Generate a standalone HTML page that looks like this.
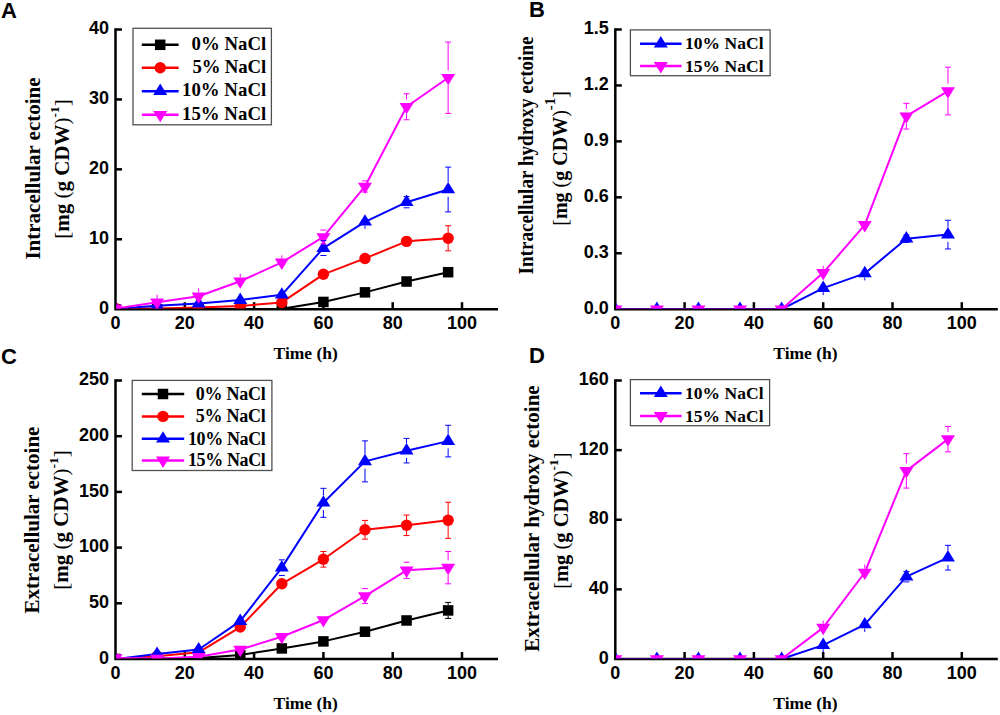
<!DOCTYPE html>
<html><head><meta charset="utf-8"><style>
html,body{margin:0;padding:0;background:#fff;}
body{width:1000px;height:715px;overflow:hidden;}
svg{display:block;}
.tk{font-family:"Liberation Sans",sans-serif;font-weight:bold;font-size:18px;fill:#000;}
.lg{font-family:"Liberation Serif",serif;font-weight:bold;font-size:18.8px;fill:#000;}
.ti{font-family:"Liberation Serif",serif;font-weight:bold;font-size:17.5px;fill:#000;}
.yt{font-family:"Liberation Serif",serif;font-weight:bold;font-size:21px;fill:#000;}
.br{font-weight:normal;}
.pl{font-family:"Liberation Sans",sans-serif;font-weight:bold;font-size:22px;fill:#000;}
</style></head><body>
<svg width="1000" height="715" viewBox="0 0 1000 715">
<defs><clipPath id="cpA"><rect x="116.30" y="-0.50" width="400" height="309.00"/></clipPath><clipPath id="cpB"><rect x="616.10" y="-0.50" width="400" height="309.00"/></clipPath><clipPath id="cpC"><rect x="116.30" y="350.50" width="400" height="307.80"/></clipPath><clipPath id="cpD"><rect x="616.10" y="350.50" width="400" height="307.80"/></clipPath></defs>
<path d="M115.50 28.30V309.20H498.00" fill="none" stroke="#000" stroke-width="2.5" stroke-linejoin="miter"/>
<path d="M115.50 239.27H122.00" stroke="#000" stroke-width="2.5"/>
<path d="M115.50 169.35H122.00" stroke="#000" stroke-width="2.5"/>
<path d="M115.50 99.43H122.00" stroke="#000" stroke-width="2.5"/>
<path d="M115.50 29.50H122.00" stroke="#000" stroke-width="2.5"/>
<path d="M184.80 309.20V302.20" stroke="#000" stroke-width="2.5"/>
<path d="M254.10 309.20V302.20" stroke="#000" stroke-width="2.5"/>
<path d="M323.40 309.20V302.20" stroke="#000" stroke-width="2.5"/>
<path d="M392.70 309.20V302.20" stroke="#000" stroke-width="2.5"/>
<path d="M462.00 309.20V302.20" stroke="#000" stroke-width="2.5"/>
<text class="tk" x="109.00" y="313.80" text-anchor="end">0</text>
<text class="tk" x="109.00" y="243.87" text-anchor="end">10</text>
<text class="tk" x="109.00" y="173.95" text-anchor="end">20</text>
<text class="tk" x="109.00" y="104.03" text-anchor="end">30</text>
<text class="tk" x="109.00" y="34.10" text-anchor="end">40</text>
<text class="tk" x="115.50" y="328.80" text-anchor="middle">0</text>
<text class="tk" x="184.80" y="328.80" text-anchor="middle">20</text>
<text class="tk" x="254.10" y="328.80" text-anchor="middle">40</text>
<text class="tk" x="323.40" y="328.80" text-anchor="middle">60</text>
<text class="tk" x="392.70" y="328.80" text-anchor="middle">80</text>
<text class="tk" x="462.00" y="328.80" text-anchor="middle">100</text>
<g clip-path="url(#cpA)">
<polyline points="115.50,309.20 157.08,309.20 198.66,309.20 240.24,309.20 281.82,308.85 323.40,301.93 364.98,292.35 406.56,281.51 448.14,272.21" fill="none" stroke="#000000" stroke-width="2.0" stroke-linejoin="round"/>
<rect x="110.25" y="303.95" width="10.5" height="10.5" fill="#000000"/>
<rect x="151.83" y="303.95" width="10.5" height="10.5" fill="#000000"/>
<rect x="193.41" y="303.95" width="10.5" height="10.5" fill="#000000"/>
<rect x="234.99" y="303.95" width="10.5" height="10.5" fill="#000000"/>
<rect x="276.57" y="303.60" width="10.5" height="10.5" fill="#000000"/>
<rect x="318.15" y="296.68" width="10.5" height="10.5" fill="#000000"/>
<rect x="359.73" y="287.10" width="10.5" height="10.5" fill="#000000"/>
<rect x="401.31" y="276.26" width="10.5" height="10.5" fill="#000000"/>
<rect x="442.89" y="266.96" width="10.5" height="10.5" fill="#000000"/>
<polyline points="115.50,308.50 157.08,308.50 198.66,307.45 240.24,306.05 281.82,302.42 323.40,274.31 364.98,258.43 406.56,241.37 448.14,238.30" fill="none" stroke="#ff0000" stroke-width="2.0" stroke-linejoin="round"/>
<circle cx="115.50" cy="308.50" r="5.7" fill="#ff0000"/>
<circle cx="157.08" cy="308.50" r="5.7" fill="#ff0000"/>
<circle cx="198.66" cy="307.45" r="5.7" fill="#ff0000"/>
<circle cx="240.24" cy="306.05" r="5.7" fill="#ff0000"/>
<circle cx="281.82" cy="302.42" r="5.7" fill="#ff0000"/>
<circle cx="323.40" cy="274.31" r="5.7" fill="#ff0000"/>
<circle cx="364.98" cy="258.43" r="5.7" fill="#ff0000"/>
<circle cx="406.56" cy="241.37" r="5.7" fill="#ff0000"/>
<circle cx="448.14" cy="238.30" r="5.7" fill="#ff0000"/>
<polyline points="115.50,308.85 157.08,305.70 198.66,303.61 240.24,300.11 281.82,294.80 323.40,248.09 364.98,221.79 406.56,202.21 448.14,189.49" fill="none" stroke="#0000ff" stroke-width="2.0" stroke-linejoin="round"/>
<path d="M115.50 301.25L122.50 312.65L108.50 312.65Z" fill="#0000ff"/>
<path d="M157.08 298.10L164.08 309.50L150.08 309.50Z" fill="#0000ff"/>
<path d="M198.66 296.01L205.66 307.41L191.66 307.41Z" fill="#0000ff"/>
<path d="M240.24 292.51L247.24 303.91L233.24 303.91Z" fill="#0000ff"/>
<path d="M281.82 287.20L288.82 298.60L274.82 298.60Z" fill="#0000ff"/>
<path d="M323.40 240.49L330.40 251.89L316.40 251.89Z" fill="#0000ff"/>
<path d="M364.98 214.19L371.98 225.59L357.98 225.59Z" fill="#0000ff"/>
<path d="M406.56 194.61L413.56 206.01L399.56 206.01Z" fill="#0000ff"/>
<path d="M448.14 181.89L455.14 193.29L441.14 193.29Z" fill="#0000ff"/>
<polyline points="115.50,308.50 157.08,302.21 198.66,296.26 240.24,281.23 281.82,262.35 323.40,236.97 364.98,186.48 406.56,106.77 448.14,77.75" fill="none" stroke="#ff00ff" stroke-width="2.0" stroke-linejoin="round"/>
<path d="M108.50 304.70L122.50 304.70L115.50 316.10Z" fill="#ff00ff"/>
<path d="M150.08 298.41L164.08 298.41L157.08 309.81Z" fill="#ff00ff"/>
<path d="M191.66 292.46L205.66 292.46L198.66 303.86Z" fill="#ff00ff"/>
<path d="M233.24 277.43L247.24 277.43L240.24 288.83Z" fill="#ff00ff"/>
<path d="M274.82 258.55L288.82 258.55L281.82 269.95Z" fill="#ff00ff"/>
<path d="M316.40 233.17L330.40 233.17L323.40 244.57Z" fill="#ff00ff"/>
<path d="M357.98 182.68L371.98 182.68L364.98 194.08Z" fill="#ff00ff"/>
<path d="M399.56 102.97L413.56 102.97L406.56 114.37Z" fill="#ff00ff"/>
<path d="M441.14 73.95L455.14 73.95L448.14 85.35Z" fill="#ff00ff"/>
<path d="M320.40 300.53H326.40M320.40 303.33H326.40" stroke="#000000" stroke-width="1.0" fill="none"/>
<path d="M361.98 290.25H367.98M361.98 294.45H367.98" stroke="#000000" stroke-width="1.0" fill="none"/>
<path d="M403.56 279.41H409.56M403.56 283.61H409.56" stroke="#000000" stroke-width="1.0" fill="none"/>
<path d="M445.14 269.41H451.14M445.14 275.01H451.14" stroke="#000000" stroke-width="1.0" fill="none"/>
<path d="M278.82 301.02H284.82M278.82 303.82H284.82" stroke="#ff0000" stroke-width="1.0" fill="none"/>
<path d="M320.40 270.81H326.40M320.40 277.80H326.40" stroke="#ff0000" stroke-width="1.0" fill="none"/>
<path d="M361.98 254.94H367.98M361.98 261.93H367.98" stroke="#ff0000" stroke-width="1.0" fill="none"/>
<path d="M403.56 237.18H409.56M403.56 245.57H409.56" stroke="#ff0000" stroke-width="1.0" fill="none"/>
<path d="M448.14 225.78V233.30M448.14 243.30V250.81M445.14 225.78H451.14M445.14 250.81H451.14" stroke="#ff0000" stroke-width="1.0" fill="none"/>
<path d="M278.82 292.70H284.82M278.82 296.89H284.82" stroke="#0000ff" stroke-width="1.0" fill="none"/>
<path d="M323.40 240.67V240.79M323.40 255.39V255.50M320.40 240.67H326.40M320.40 255.50H326.40" stroke="#0000ff" stroke-width="1.0" fill="none"/>
<path d="M364.98 225.79V228.79" stroke="#0000ff" stroke-width="1.0" fill="none"/>
<path d="M403.56 196.62H409.56M403.56 207.81H409.56" stroke="#0000ff" stroke-width="1.0" fill="none"/>
<path d="M448.14 167.11V182.19M448.14 196.79V211.86M445.14 167.11H451.14M445.14 211.86H451.14" stroke="#0000ff" stroke-width="1.0" fill="none"/>
<path d="M157.08 294.71V298.21" stroke="#ff00ff" stroke-width="1.0" fill="none"/>
<path d="M198.66 288.26V292.26" stroke="#ff00ff" stroke-width="1.0" fill="none"/>
<path d="M240.24 273.73V277.23" stroke="#ff00ff" stroke-width="1.0" fill="none"/>
<path d="M281.82 255.35V258.35" stroke="#ff00ff" stroke-width="1.0" fill="none"/>
<path d="M320.40 230.04H326.40M320.40 243.89H326.40" stroke="#ff00ff" stroke-width="1.0" fill="none"/>
<path d="M361.98 180.89H367.98M361.98 192.08H367.98" stroke="#ff00ff" stroke-width="1.0" fill="none"/>
<path d="M406.56 93.76V99.47M406.56 114.07V119.77M403.56 93.76H409.56M403.56 119.77H409.56" stroke="#ff00ff" stroke-width="1.0" fill="none"/>
<path d="M448.14 42.09V70.45M448.14 85.05V113.41M445.14 42.09H451.14M445.14 113.41H451.14" stroke="#ff00ff" stroke-width="1.0" fill="none"/>
</g>
<path d="M615.30 28.30V309.20H997.80" fill="none" stroke="#000" stroke-width="2.5" stroke-linejoin="miter"/>
<path d="M615.30 253.26H621.80" stroke="#000" stroke-width="2.5"/>
<path d="M615.30 197.32H621.80" stroke="#000" stroke-width="2.5"/>
<path d="M615.30 141.38H621.80" stroke="#000" stroke-width="2.5"/>
<path d="M615.30 85.44H621.80" stroke="#000" stroke-width="2.5"/>
<path d="M615.30 29.50H621.80" stroke="#000" stroke-width="2.5"/>
<path d="M684.60 309.20V302.20" stroke="#000" stroke-width="2.5"/>
<path d="M753.90 309.20V302.20" stroke="#000" stroke-width="2.5"/>
<path d="M823.20 309.20V302.20" stroke="#000" stroke-width="2.5"/>
<path d="M892.50 309.20V302.20" stroke="#000" stroke-width="2.5"/>
<path d="M961.80 309.20V302.20" stroke="#000" stroke-width="2.5"/>
<text class="tk" x="608.80" y="313.80" text-anchor="end">0.0</text>
<text class="tk" x="608.80" y="257.86" text-anchor="end">0.3</text>
<text class="tk" x="608.80" y="201.92" text-anchor="end">0.6</text>
<text class="tk" x="608.80" y="145.98" text-anchor="end">0.9</text>
<text class="tk" x="608.80" y="90.04" text-anchor="end">1.2</text>
<text class="tk" x="608.80" y="34.10" text-anchor="end">1.5</text>
<text class="tk" x="615.30" y="328.80" text-anchor="middle">0</text>
<text class="tk" x="684.60" y="328.80" text-anchor="middle">20</text>
<text class="tk" x="753.90" y="328.80" text-anchor="middle">40</text>
<text class="tk" x="823.20" y="328.80" text-anchor="middle">60</text>
<text class="tk" x="892.50" y="328.80" text-anchor="middle">80</text>
<text class="tk" x="961.80" y="328.80" text-anchor="middle">100</text>
<g clip-path="url(#cpB)">
<polyline points="615.30,309.20 656.88,309.20 698.46,309.20 740.04,309.20 781.62,309.20 823.20,288.13 864.78,273.40 906.36,238.72 947.94,234.61" fill="none" stroke="#0000ff" stroke-width="2.0" stroke-linejoin="round"/>
<path d="M615.30 301.60L622.30 313.00L608.30 313.00Z" fill="#0000ff"/>
<path d="M656.88 301.60L663.88 313.00L649.88 313.00Z" fill="#0000ff"/>
<path d="M698.46 301.60L705.46 313.00L691.46 313.00Z" fill="#0000ff"/>
<path d="M740.04 301.60L747.04 313.00L733.04 313.00Z" fill="#0000ff"/>
<path d="M781.62 301.60L788.62 313.00L774.62 313.00Z" fill="#0000ff"/>
<path d="M823.20 280.53L830.20 291.93L816.20 291.93Z" fill="#0000ff"/>
<path d="M864.78 265.80L871.78 277.20L857.78 277.20Z" fill="#0000ff"/>
<path d="M906.36 231.12L913.36 242.52L899.36 242.52Z" fill="#0000ff"/>
<path d="M947.94 227.01L954.94 238.41L940.94 238.41Z" fill="#0000ff"/>
<polyline points="615.30,309.20 656.88,309.20 698.46,309.20 740.04,309.20 781.62,309.20 823.20,272.84 864.78,224.92 906.36,116.21 947.94,91.03" fill="none" stroke="#ff00ff" stroke-width="2.0" stroke-linejoin="round"/>
<path d="M608.30 305.40L622.30 305.40L615.30 316.80Z" fill="#ff00ff"/>
<path d="M649.88 305.40L663.88 305.40L656.88 316.80Z" fill="#ff00ff"/>
<path d="M691.46 305.40L705.46 305.40L698.46 316.80Z" fill="#ff00ff"/>
<path d="M733.04 305.40L747.04 305.40L740.04 316.80Z" fill="#ff00ff"/>
<path d="M774.62 305.40L788.62 305.40L781.62 316.80Z" fill="#ff00ff"/>
<path d="M816.20 269.04L830.20 269.04L823.20 280.44Z" fill="#ff00ff"/>
<path d="M857.78 221.12L871.78 221.12L864.78 232.52Z" fill="#ff00ff"/>
<path d="M899.36 112.41L913.36 112.41L906.36 123.81Z" fill="#ff00ff"/>
<path d="M940.94 87.23L954.94 87.23L947.94 98.63Z" fill="#ff00ff"/>
<path d="M823.20 292.13V295.13" stroke="#0000ff" stroke-width="1.0" fill="none"/>
<path d="M864.78 277.40V280.40" stroke="#0000ff" stroke-width="1.0" fill="none"/>
<path d="M903.36 234.99H909.36M903.36 242.44H909.36" stroke="#0000ff" stroke-width="1.0" fill="none"/>
<path d="M947.94 220.26V227.31M947.94 241.91V248.97M944.94 220.26H950.94M944.94 248.97H950.94" stroke="#0000ff" stroke-width="1.0" fill="none"/>
<path d="M823.20 265.84V268.84" stroke="#ff00ff" stroke-width="1.0" fill="none"/>
<path d="M906.36 103.34V108.91M906.36 123.51V129.07M903.36 103.34H909.36M903.36 129.07H909.36" stroke="#ff00ff" stroke-width="1.0" fill="none"/>
<path d="M947.94 67.17V83.73M947.94 98.33V114.90M944.94 67.17H950.94M944.94 114.90H950.94" stroke="#ff00ff" stroke-width="1.0" fill="none"/>
</g>
<path d="M115.50 379.30V659.00H498.00" fill="none" stroke="#000" stroke-width="2.5" stroke-linejoin="miter"/>
<path d="M115.50 603.30H122.00" stroke="#000" stroke-width="2.5"/>
<path d="M115.50 547.60H122.00" stroke="#000" stroke-width="2.5"/>
<path d="M115.50 491.90H122.00" stroke="#000" stroke-width="2.5"/>
<path d="M115.50 436.20H122.00" stroke="#000" stroke-width="2.5"/>
<path d="M115.50 380.50H122.00" stroke="#000" stroke-width="2.5"/>
<path d="M184.80 659.00V652.00" stroke="#000" stroke-width="2.5"/>
<path d="M254.10 659.00V652.00" stroke="#000" stroke-width="2.5"/>
<path d="M323.40 659.00V652.00" stroke="#000" stroke-width="2.5"/>
<path d="M392.70 659.00V652.00" stroke="#000" stroke-width="2.5"/>
<path d="M462.00 659.00V652.00" stroke="#000" stroke-width="2.5"/>
<text class="tk" x="109.00" y="663.60" text-anchor="end">0</text>
<text class="tk" x="109.00" y="607.90" text-anchor="end">50</text>
<text class="tk" x="109.00" y="552.20" text-anchor="end">100</text>
<text class="tk" x="109.00" y="496.50" text-anchor="end">150</text>
<text class="tk" x="109.00" y="440.80" text-anchor="end">200</text>
<text class="tk" x="109.00" y="385.10" text-anchor="end">250</text>
<text class="tk" x="115.50" y="678.60" text-anchor="middle">0</text>
<text class="tk" x="184.80" y="678.60" text-anchor="middle">20</text>
<text class="tk" x="254.10" y="678.60" text-anchor="middle">40</text>
<text class="tk" x="323.40" y="678.60" text-anchor="middle">60</text>
<text class="tk" x="392.70" y="678.60" text-anchor="middle">80</text>
<text class="tk" x="462.00" y="678.60" text-anchor="middle">100</text>
<g clip-path="url(#cpC)">
<polyline points="115.50,659.00 157.08,659.00 198.66,658.11 240.24,654.99 281.82,648.42 323.40,641.40 364.98,631.71 406.56,620.46 448.14,610.43" fill="none" stroke="#000000" stroke-width="2.0" stroke-linejoin="round"/>
<rect x="110.25" y="653.75" width="10.5" height="10.5" fill="#000000"/>
<rect x="151.83" y="653.75" width="10.5" height="10.5" fill="#000000"/>
<rect x="193.41" y="652.86" width="10.5" height="10.5" fill="#000000"/>
<rect x="234.99" y="649.74" width="10.5" height="10.5" fill="#000000"/>
<rect x="276.57" y="643.17" width="10.5" height="10.5" fill="#000000"/>
<rect x="318.15" y="636.15" width="10.5" height="10.5" fill="#000000"/>
<rect x="359.73" y="626.46" width="10.5" height="10.5" fill="#000000"/>
<rect x="401.31" y="615.21" width="10.5" height="10.5" fill="#000000"/>
<rect x="442.89" y="605.18" width="10.5" height="10.5" fill="#000000"/>
<polyline points="115.50,659.00 157.08,656.22 198.66,652.32 240.24,627.03 281.82,583.80 323.40,559.30 364.98,529.78 406.56,525.32 448.14,520.31" fill="none" stroke="#ff0000" stroke-width="2.0" stroke-linejoin="round"/>
<circle cx="115.50" cy="659.00" r="5.7" fill="#ff0000"/>
<circle cx="157.08" cy="656.22" r="5.7" fill="#ff0000"/>
<circle cx="198.66" cy="652.32" r="5.7" fill="#ff0000"/>
<circle cx="240.24" cy="627.03" r="5.7" fill="#ff0000"/>
<circle cx="281.82" cy="583.80" r="5.7" fill="#ff0000"/>
<circle cx="323.40" cy="559.30" r="5.7" fill="#ff0000"/>
<circle cx="364.98" cy="529.78" r="5.7" fill="#ff0000"/>
<circle cx="406.56" cy="525.32" r="5.7" fill="#ff0000"/>
<circle cx="448.14" cy="520.31" r="5.7" fill="#ff0000"/>
<polyline points="115.50,659.00 157.08,653.99 198.66,649.53 240.24,621.12 281.82,567.65 323.40,502.82 364.98,461.38 406.56,450.68 448.14,441.10" fill="none" stroke="#0000ff" stroke-width="2.0" stroke-linejoin="round"/>
<path d="M115.50 651.40L122.50 662.80L108.50 662.80Z" fill="#0000ff"/>
<path d="M157.08 646.39L164.08 657.79L150.08 657.79Z" fill="#0000ff"/>
<path d="M198.66 641.93L205.66 653.33L191.66 653.33Z" fill="#0000ff"/>
<path d="M240.24 613.52L247.24 624.92L233.24 624.92Z" fill="#0000ff"/>
<path d="M281.82 560.05L288.82 571.45L274.82 571.45Z" fill="#0000ff"/>
<path d="M323.40 495.22L330.40 506.62L316.40 506.62Z" fill="#0000ff"/>
<path d="M364.98 453.78L371.98 465.18L357.98 465.18Z" fill="#0000ff"/>
<path d="M406.56 443.08L413.56 454.48L399.56 454.48Z" fill="#0000ff"/>
<path d="M448.14 433.50L455.14 444.90L441.14 444.90Z" fill="#0000ff"/>
<polyline points="115.50,658.11 157.08,658.44 198.66,656.77 240.24,649.53 281.82,636.72 323.40,620.01 364.98,596.06 406.56,570.33 448.14,567.65" fill="none" stroke="#ff00ff" stroke-width="2.0" stroke-linejoin="round"/>
<path d="M108.50 654.31L122.50 654.31L115.50 665.71Z" fill="#ff00ff"/>
<path d="M150.08 654.64L164.08 654.64L157.08 666.04Z" fill="#ff00ff"/>
<path d="M191.66 652.97L205.66 652.97L198.66 664.37Z" fill="#ff00ff"/>
<path d="M233.24 645.73L247.24 645.73L240.24 657.13Z" fill="#ff00ff"/>
<path d="M274.82 632.92L288.82 632.92L281.82 644.32Z" fill="#ff00ff"/>
<path d="M316.40 616.21L330.40 616.21L323.40 627.61Z" fill="#ff00ff"/>
<path d="M357.98 592.26L371.98 592.26L364.98 603.66Z" fill="#ff00ff"/>
<path d="M399.56 566.53L413.56 566.53L406.56 577.93Z" fill="#ff00ff"/>
<path d="M441.14 563.85L455.14 563.85L448.14 575.25Z" fill="#ff00ff"/>
<path d="M320.40 640.28H326.40M320.40 642.51H326.40" stroke="#000000" stroke-width="1.0" fill="none"/>
<path d="M361.98 630.04H367.98M361.98 633.38H367.98" stroke="#000000" stroke-width="1.0" fill="none"/>
<path d="M403.56 618.23H409.56M403.56 622.68H409.56" stroke="#000000" stroke-width="1.0" fill="none"/>
<path d="M448.14 602.41V605.43M448.14 615.43V618.45M445.14 602.41H451.14M445.14 618.45H451.14" stroke="#000000" stroke-width="1.0" fill="none"/>
<path d="M278.82 580.46H284.82M278.82 587.15H284.82" stroke="#ff0000" stroke-width="1.0" fill="none"/>
<path d="M323.40 551.50V554.30M323.40 564.30V567.10M320.40 551.50H326.40M320.40 567.10H326.40" stroke="#ff0000" stroke-width="1.0" fill="none"/>
<path d="M364.98 520.42V524.78M364.98 534.78V539.13M361.98 520.42H367.98M361.98 539.13H367.98" stroke="#ff0000" stroke-width="1.0" fill="none"/>
<path d="M406.56 515.07V520.32M406.56 530.32V535.57M403.56 515.07H409.56M403.56 535.57H409.56" stroke="#ff0000" stroke-width="1.0" fill="none"/>
<path d="M448.14 502.26V515.31M448.14 525.31V538.35M445.14 502.26H451.14M445.14 538.35H451.14" stroke="#ff0000" stroke-width="1.0" fill="none"/>
<path d="M281.82 559.85V560.35M281.82 574.95V575.45M278.82 559.85H284.82M278.82 575.45H284.82" stroke="#0000ff" stroke-width="1.0" fill="none"/>
<path d="M323.40 488.34V495.52M323.40 510.12V517.30M320.40 488.34H326.40M320.40 517.30H326.40" stroke="#0000ff" stroke-width="1.0" fill="none"/>
<path d="M364.98 440.88V454.08M364.98 468.68V481.87M361.98 440.88H367.98M361.98 481.87H367.98" stroke="#0000ff" stroke-width="1.0" fill="none"/>
<path d="M406.56 438.43V443.38M406.56 457.98V462.94M403.56 438.43H409.56M403.56 462.94H409.56" stroke="#0000ff" stroke-width="1.0" fill="none"/>
<path d="M448.14 425.28V433.80M448.14 448.40V456.92M445.14 425.28H451.14M445.14 456.92H451.14" stroke="#0000ff" stroke-width="1.0" fill="none"/>
<path d="M364.98 588.60V588.76M364.98 603.36V603.52M361.98 588.60H367.98M361.98 603.52H367.98" stroke="#ff00ff" stroke-width="1.0" fill="none"/>
<path d="M406.56 562.19V563.03M406.56 577.63V578.46M403.56 562.19H409.56M403.56 578.46H409.56" stroke="#ff00ff" stroke-width="1.0" fill="none"/>
<path d="M448.14 551.50V560.35M448.14 574.95V583.81M445.14 551.50H451.14M445.14 583.81H451.14" stroke="#ff00ff" stroke-width="1.0" fill="none"/>
</g>
<path d="M615.30 379.30V659.00H997.80" fill="none" stroke="#000" stroke-width="2.5" stroke-linejoin="miter"/>
<path d="M615.30 589.38H621.80" stroke="#000" stroke-width="2.5"/>
<path d="M615.30 519.75H621.80" stroke="#000" stroke-width="2.5"/>
<path d="M615.30 450.12H621.80" stroke="#000" stroke-width="2.5"/>
<path d="M615.30 380.50H621.80" stroke="#000" stroke-width="2.5"/>
<path d="M684.60 659.00V652.00" stroke="#000" stroke-width="2.5"/>
<path d="M753.90 659.00V652.00" stroke="#000" stroke-width="2.5"/>
<path d="M823.20 659.00V652.00" stroke="#000" stroke-width="2.5"/>
<path d="M892.50 659.00V652.00" stroke="#000" stroke-width="2.5"/>
<path d="M961.80 659.00V652.00" stroke="#000" stroke-width="2.5"/>
<text class="tk" x="608.80" y="663.60" text-anchor="end">0</text>
<text class="tk" x="608.80" y="593.98" text-anchor="end">40</text>
<text class="tk" x="608.80" y="524.35" text-anchor="end">80</text>
<text class="tk" x="608.80" y="454.73" text-anchor="end">120</text>
<text class="tk" x="608.80" y="385.10" text-anchor="end">160</text>
<text class="tk" x="615.30" y="678.60" text-anchor="middle">0</text>
<text class="tk" x="684.60" y="678.60" text-anchor="middle">20</text>
<text class="tk" x="753.90" y="678.60" text-anchor="middle">40</text>
<text class="tk" x="823.20" y="678.60" text-anchor="middle">60</text>
<text class="tk" x="892.50" y="678.60" text-anchor="middle">80</text>
<text class="tk" x="961.80" y="678.60" text-anchor="middle">100</text>
<g clip-path="url(#cpD)">
<polyline points="615.30,659.00 656.88,659.00 698.46,659.00 740.04,659.00 781.62,659.00 823.20,645.16 864.78,624.54 906.36,576.67 947.94,557.70" fill="none" stroke="#0000ff" stroke-width="2.0" stroke-linejoin="round"/>
<path d="M615.30 651.40L622.30 662.80L608.30 662.80Z" fill="#0000ff"/>
<path d="M656.88 651.40L663.88 662.80L649.88 662.80Z" fill="#0000ff"/>
<path d="M698.46 651.40L705.46 662.80L691.46 662.80Z" fill="#0000ff"/>
<path d="M740.04 651.40L747.04 662.80L733.04 662.80Z" fill="#0000ff"/>
<path d="M781.62 651.40L788.62 662.80L774.62 662.80Z" fill="#0000ff"/>
<path d="M823.20 637.56L830.20 648.96L816.20 648.96Z" fill="#0000ff"/>
<path d="M864.78 616.94L871.78 628.34L857.78 628.34Z" fill="#0000ff"/>
<path d="M906.36 569.07L913.36 580.47L899.36 580.47Z" fill="#0000ff"/>
<path d="M947.94 550.10L954.94 561.50L940.94 561.50Z" fill="#0000ff"/>
<polyline points="615.30,659.00 656.88,659.00 698.46,659.00 740.04,659.00 781.62,659.00 823.20,627.67 864.78,572.49 906.36,470.84 947.94,439.16" fill="none" stroke="#ff00ff" stroke-width="2.0" stroke-linejoin="round"/>
<path d="M608.30 655.20L622.30 655.20L615.30 666.60Z" fill="#ff00ff"/>
<path d="M649.88 655.20L663.88 655.20L656.88 666.60Z" fill="#ff00ff"/>
<path d="M691.46 655.20L705.46 655.20L698.46 666.60Z" fill="#ff00ff"/>
<path d="M733.04 655.20L747.04 655.20L740.04 666.60Z" fill="#ff00ff"/>
<path d="M774.62 655.20L788.62 655.20L781.62 666.60Z" fill="#ff00ff"/>
<path d="M816.20 623.87L830.20 623.87L823.20 635.27Z" fill="#ff00ff"/>
<path d="M857.78 568.69L871.78 568.69L864.78 580.09Z" fill="#ff00ff"/>
<path d="M899.36 467.04L913.36 467.04L906.36 478.44Z" fill="#ff00ff"/>
<path d="M940.94 435.36L954.94 435.36L947.94 446.76Z" fill="#ff00ff"/>
<path d="M823.20 649.16V652.16" stroke="#0000ff" stroke-width="1.0" fill="none"/>
<path d="M864.78 628.54V632.04" stroke="#0000ff" stroke-width="1.0" fill="none"/>
<path d="M903.36 571.45H909.36M903.36 581.89H909.36" stroke="#0000ff" stroke-width="1.0" fill="none"/>
<path d="M947.94 545.34V550.40M947.94 565.00V570.05M944.94 545.34H950.94M944.94 570.05H950.94" stroke="#0000ff" stroke-width="1.0" fill="none"/>
<path d="M823.20 620.67V623.67" stroke="#ff00ff" stroke-width="1.0" fill="none"/>
<path d="M864.78 564.49V568.49" stroke="#ff00ff" stroke-width="1.0" fill="none"/>
<path d="M906.36 453.61V463.54M906.36 478.14V488.07M903.36 453.61H909.36M903.36 488.07H909.36" stroke="#ff00ff" stroke-width="1.0" fill="none"/>
<path d="M947.94 426.45V431.86M947.94 446.46V451.87M944.94 426.45H950.94M944.94 451.87H950.94" stroke="#ff00ff" stroke-width="1.0" fill="none"/>
</g>
<rect x="133.00" y="28.30" width="138.40" height="96.50" fill="none" stroke="#505050" stroke-width="1.3"/>
<path d="M141.80 44.80H178.60" stroke="#000000" stroke-width="2.5"/>
<rect x="154.95" y="39.55" width="10.5" height="10.5" fill="#000000"/>
<text class="lg" style="font-size:18.8px" x="191.60" y="50.00" textLength="74.60" lengthAdjust="spacing">0% NaCl</text>
<path d="M141.80 67.70H178.60" stroke="#ff0000" stroke-width="2.5"/>
<circle cx="160.20" cy="67.70" r="5.7" fill="#ff0000"/>
<text class="lg" style="font-size:18.8px" x="192.40" y="72.90" textLength="73.80" lengthAdjust="spacing">5% NaCl</text>
<path d="M141.80 91.20H178.60" stroke="#0000ff" stroke-width="2.5"/>
<path d="M160.20 83.60L167.20 95.00L153.20 95.00Z" fill="#0000ff"/>
<text class="lg" style="font-size:18.8px" x="182.00" y="96.40" textLength="84.20" lengthAdjust="spacing">10% NaCl</text>
<path d="M141.80 114.70H178.60" stroke="#ff00ff" stroke-width="2.5"/>
<path d="M153.20 110.90L167.20 110.90L160.20 122.30Z" fill="#ff00ff"/>
<text class="lg" style="font-size:18.8px" x="182.00" y="119.90" textLength="84.20" lengthAdjust="spacing">15% NaCl</text>
<rect x="630.40" y="29.90" width="139.70" height="45.80" fill="none" stroke="#505050" stroke-width="1.3"/>
<path d="M640.00 43.70H681.60" stroke="#0000ff" stroke-width="2.5"/>
<path d="M660.80 36.10L667.80 47.50L653.80 47.50Z" fill="#0000ff"/>
<text class="lg" style="font-size:17.5px" x="685.00" y="49.30" textLength="78.60" lengthAdjust="spacing">10% NaCl</text>
<path d="M640.00 65.90H681.60" stroke="#ff00ff" stroke-width="2.5"/>
<path d="M653.80 62.10L667.80 62.10L660.80 73.50Z" fill="#ff00ff"/>
<text class="lg" style="font-size:17.5px" x="685.00" y="71.50" textLength="78.60" lengthAdjust="spacing">15% NaCl</text>
<rect x="132.20" y="380.40" width="139.70" height="90.10" fill="none" stroke="#505050" stroke-width="1.3"/>
<path d="M141.80 394.00H184.20" stroke="#000000" stroke-width="2.5"/>
<rect x="157.75" y="388.75" width="10.5" height="10.5" fill="#000000"/>
<text class="lg" style="font-size:18px" x="195.80" y="399.80" textLength="70.00" lengthAdjust="spacing">0% NaCl</text>
<path d="M141.80 416.40H184.20" stroke="#ff0000" stroke-width="2.5"/>
<circle cx="163.00" cy="416.40" r="5.7" fill="#ff0000"/>
<text class="lg" style="font-size:18px" x="195.80" y="422.20" textLength="70.00" lengthAdjust="spacing">5% NaCl</text>
<path d="M141.80 438.80H184.20" stroke="#0000ff" stroke-width="2.5"/>
<path d="M163.00 431.20L170.00 442.60L156.00 442.60Z" fill="#0000ff"/>
<text class="lg" style="font-size:18px" x="188.00" y="444.60" textLength="77.80" lengthAdjust="spacing">10% NaCl</text>
<path d="M141.80 460.40H184.20" stroke="#ff00ff" stroke-width="2.5"/>
<path d="M156.00 456.60L170.00 456.60L163.00 468.00Z" fill="#ff00ff"/>
<text class="lg" style="font-size:18px" x="188.00" y="466.20" textLength="77.80" lengthAdjust="spacing">15% NaCl</text>
<rect x="630.40" y="379.60" width="139.20" height="46.10" fill="none" stroke="#505050" stroke-width="1.3"/>
<path d="M640.00 393.20H681.60" stroke="#0000ff" stroke-width="2.5"/>
<path d="M660.80 385.60L667.80 397.00L653.80 397.00Z" fill="#0000ff"/>
<text class="lg" style="font-size:17.5px" x="685.00" y="398.80" textLength="78.60" lengthAdjust="spacing">10% NaCl</text>
<path d="M640.00 415.90H681.60" stroke="#ff00ff" stroke-width="2.5"/>
<path d="M653.80 412.10L667.80 412.10L660.80 423.50Z" fill="#ff00ff"/>
<text class="lg" style="font-size:17.5px" x="685.00" y="421.50" textLength="78.60" lengthAdjust="spacing">15% NaCl</text>
<text class="ti" x="305.70" y="359.00" text-anchor="middle">Time (h)</text>
<text class="ti" x="805.50" y="359.00" text-anchor="middle">Time (h)</text>
<text class="ti" x="305.70" y="709.00" text-anchor="middle">Time (h)</text>
<text class="ti" x="805.50" y="709.00" text-anchor="middle">Time (h)</text>
<text class="yt" style="font-size:21px" transform="translate(40.00 168.50) rotate(-90)" text-anchor="middle">Intracellular ectoine</text>
<text class="yt" style="font-size:21px" transform="translate(69.00 169.00) rotate(-90)" text-anchor="middle"><tspan class="br">[</tspan>mg <tspan class="br">(</tspan>g CDW<tspan class="br">)</tspan><tspan style="font-size:13.5px" dy="-10">-1</tspan><tspan class="br" dy="10">]</tspan></text>
<text class="yt" style="font-size:20.5px" transform="translate(532.50 155.50) rotate(-90)" text-anchor="middle" textLength="238" lengthAdjust="spacingAndGlyphs">Intracellular hydroxy ectoine</text>
<text class="yt" style="font-size:20px" transform="translate(567.00 158.40) rotate(-90)" text-anchor="middle"><tspan class="br">[</tspan>mg <tspan class="br">(</tspan>g CDW<tspan class="br">)</tspan><tspan style="font-size:15px" dy="-12.5">-1</tspan><tspan class="br" dy="12.5">]</tspan></text>
<text class="yt" style="font-size:21px" transform="translate(39.30 520.00) rotate(-90)" text-anchor="middle">Extracellular ectoine</text>
<text class="yt" style="font-size:21px" transform="translate(68.00 520.00) rotate(-90)" text-anchor="middle"><tspan class="br">[</tspan>mg <tspan class="br">(</tspan>g CDW<tspan class="br">)</tspan><tspan style="font-size:13.5px" dy="-10">-1</tspan><tspan class="br" dy="10">]</tspan></text>
<text class="yt" style="font-size:21px" transform="translate(538.50 518.50) rotate(-90)" text-anchor="middle">Extracellular hydroxy ectoine</text>
<text class="yt" style="font-size:20.5px" transform="translate(568.00 520.60) rotate(-90)" text-anchor="middle"><tspan class="br">[</tspan>mg <tspan class="br">(</tspan>g CDW<tspan class="br">)</tspan><tspan style="font-size:13.5px" dy="-10">-1</tspan><tspan class="br" dy="10">]</tspan></text>
<text class="pl" x="1" y="17.9">A</text>
<text class="pl" x="529" y="17">B</text>
<text class="pl" x="1" y="364">C</text>
<text class="pl" x="529" y="363">D</text>
</svg>
</body></html>
